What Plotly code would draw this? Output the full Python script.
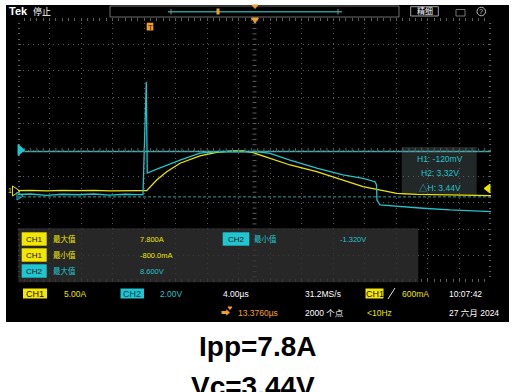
import plotly.graph_objects as go

W, H = 516, 392

# ---------------- data ----------------
# horizontal: time in µs relative to trigger (4 µs/div, 15 div, H-pos 13.376 µs)
T_LEFT, T_RIGHT, T_DIV = -16.624, 43.376, 4.0
CH1_RANGE = [-17.05, 32.95]   # A   (5 A/div, 10 div)
CH2_RANGE = [-6.568, 13.432]  # V   (2 V/div, 10 div)

ch1_time = [-16.62, -15.0, -13.0, -11.0, -9.0, -7.0, -5.0, -3.0, -1.5, -0.30,
            0.97, 2.24, 3.93, 6.46, 8.58, 10.65, 11.92, 13.19, 15.34, 17.88,
            21.27, 24.60, 27.14, 29.68, 31.42, 33.95, 38.18, 43.38]
ch1_amps = [0.25, 0.30, 0.20, 0.30, 0.25, 0.30, 0.20, 0.30, 0.25, 0.25,
            2.27, 3.84, 5.44, 6.82, 7.52, 7.77, 7.80, 7.44, 6.38, 5.11,
            3.84, 2.27, 1.00, 0.25, -0.25, -0.44, -0.57, -0.70]

ch2_time = [-16.62, -15.0, -13.0, -11.0, -9.0, -7.0, -5.0, -3.0, -1.5, -0.77,
            -0.35, -0.23, 1.39, 3.93, 6.46, 8.58, 10.65, 12.81, 14.08, 15.34,
            17.88, 21.27, 24.60, 27.14, 28.66, 28.85, 28.91, 29.30, 31.83,
            34.75, 38.18, 43.38]
ch2_volts = [0.06, 0.10, 0.00, 0.08, 0.04, 0.10, 0.02, 0.08, 0.05, 0.06,
             8.60, 1.69, 2.07, 2.67, 3.20, 3.30, 3.32, 3.32, 3.28, 3.18,
             2.67, 2.05, 1.54, 1.29, 1.03, 0.78, -0.36, -0.73, -0.86,
             -0.98, -1.11, -1.23]

cursor_h1 = -0.12   # V
cursor_h2 = 3.32    # V
trig_level = 0.6    # A

meas_rows = [("CH1", "最大值", "7.800A"), ("CH1", "最小值", "-800.0mA"), ("CH2", "最大值", "8.600V")]
meas_right = ("CH2", "最小值", "-1.320V")
cursor_texts = ["H1: -120mV", "H2: 3.32V", "△H: 3.44V"]
title_lines = ["Ipp=7.8A", "Vc=3.44V"]

# ---------------- style ----------------
YEL = "#ece400"
YEL_BG = "#f3e600"
CYA = "#22c3cc"
CYA_BG = "#1fc6cf"
ORA = "#f0a024"
GRID = "#5c5c5c"
FONT = "Liberation Sans, Noto Sans CJK SC, sans-serif"

GX0, GX1, GY0, GY1 = 18, 491, 18, 282   # grid box in pixels


def PX(x):
    return x / W


def PY(y):
    return 1 - y / H


fig = go.Figure()
fig.add_trace(go.Scatter(x=ch1_time, y=ch1_amps, mode="lines", line=dict(color=YEL, width=1.3),
                         yaxis="y", hoverinfo="skip", showlegend=False))
fig.add_trace(go.Scatter(x=ch2_time, y=ch2_volts, mode="lines", line=dict(color=CYA, width=1.3),
                         yaxis="y2", hoverinfo="skip", showlegend=False))

shapes = []
ann = []

# oscilloscope screen
shapes.append(dict(type="rect", xref="paper", yref="paper", x0=PX(6), x1=PX(509), y0=PY(322), y1=PY(5),
                   fillcolor="black", line_width=0, layer="below"))

# cursors
shapes.append(dict(type="line", xref="x", yref="y2", x0=T_LEFT, x1=T_RIGHT, y0=cursor_h2, y1=cursor_h2,
                   line=dict(color="#3fa9ab", width=1.4), layer="below"))
shapes.append(dict(type="line", xref="x", yref="y2", x0=T_LEFT, x1=T_RIGHT, y0=cursor_h1, y1=cursor_h1,
                   line=dict(color="#2f9ea3", width=1, dash="3px,2px"), layer="below"))

# centre cross minor ticks
tc = (T_LEFT + T_RIGHT) / 2
yc = (CH1_RANGE[0] + CH1_RANGE[1]) / 2
for k in range(76):
    t = T_LEFT + k * T_DIV / 5
    shapes.append(dict(type="line", xref="x", yref="y", xsizemode="scaled", ysizemode="pixel", yanchor=yc,
                       x0=t, x1=t, y0=-2, y1=2, line=dict(color=GRID, width=1)))
for k in range(51):
    a = CH1_RANGE[0] + k * 1.0
    shapes.append(dict(type="line", xref="x", yref="y", xsizemode="pixel", xanchor=tc,
                       x0=-2, x1=2, y0=a, y1=a, line=dict(color=GRID, width=1)))


def txt(x, y, s, color="white", size=9, anchor="left", bold=False, font=FONT):
    ann.append(dict(xref="paper", yref="paper", x=PX(x), y=PY(y), text=("<b>%s</b>" % s) if bold else s,
                    showarrow=False, xanchor=anchor, yanchor="middle",
                    font=dict(color=color, size=size, family=font)))


def badge(x0, x1, y0, y1, s, bg, fg="#111111", size=8):
    shapes.append(dict(type="rect", xref="paper", yref="paper", x0=PX(x0), x1=PX(x1), y0=PY(y1), y1=PY(y0),
                       fillcolor=bg, line_width=0, layer="above"))
    txt((x0 + x1) / 2, (y0 + y1) / 2 + 0.5, s, color=fg, size=size, anchor="center")


def tri(points, color, fill=True):
    path = "M " + " L ".join("%f,%f" % (PX(a), PY(b)) for a, b in points) + " Z"
    shapes.append(dict(type="path", xref="paper", yref="paper", path=path,
                       fillcolor=color if fill else "rgba(0,0,0,0)", line=dict(color=color, width=1),
                       layer="above"))

# ---- top bar ----
txt(7, 11.5, "Tek", size=11, bold=True)
txt(31, 11.5, "停止", size=9)
shapes.append(dict(type="rect", xref="paper", yref="paper", x0=PX(110), x1=PX(399), y0=PY(17), y1=PY(6),
                   line=dict(color="#6d6d6d", width=1), fillcolor="rgba(0,0,0,0)"))
shapes.append(dict(type="line", xref="paper", yref="paper", x0=PX(168), x1=PX(342), y0=PY(11.7), y1=PY(11.7),
                   line=dict(color="#2c9696", width=1.6)))
for bx in (171, 338):
    shapes.append(dict(type="line", xref="paper", yref="paper", x0=PX(bx), x1=PX(bx), y0=PY(9), y1=PY(14.5),
                       line=dict(color="#888", width=1)))
shapes.append(dict(type="rect", xref="paper", yref="paper", x0=PX(216.5), x1=PX(219.5), y0=PY(14.5), y1=PY(8.5),
                   fillcolor=ORA, line_width=0))
tri([(252, 5), (258, 5), (255, 8.5)], ORA)
shapes.append(dict(type="rect", xref="paper", yref="paper", x0=PX(410.7), x1=PX(438.3), y0=PY(16), y1=PY(6.7),
                   line=dict(color="#a0a0a0", width=1), fillcolor="rgba(0,0,0,0)"))
txt(424.5, 11.5, "精细", size=8, anchor="center")
shapes.append(dict(type="rect", xref="paper", yref="paper", x0=PX(456), x1=PX(465), y0=PY(16), y1=PY(9.5),
                   line=dict(color="#777", width=1), fillcolor="rgba(0,0,0,0)"))
shapes.append(dict(type="circle", xref="paper", yref="paper", x0=PX(477), x1=PX(485.5), y0=PY(15.8), y1=PY(7.2),
                   line=dict(color="#bbbbbb", width=1), fillcolor="rgba(0,0,0,0)"))
txt(481.3, 11.7, "?", size=7, color="#cccccc", anchor="center")

# trigger / centre markers
tri([(251.5, 18), (258.5, 18), (255, 23)], ORA)
badge(146.7, 153.3, 22.7, 30.5, "T", ORA, fg="#3a2000", size=8)

# left markers
tri([(18, 144.5), (18, 155.5), (24.5, 150)], CYA_BG)
txt(10, 190.5, "1", color=YEL, size=7, anchor="center")
tri([(12.5, 186), (12.5, 196), (20, 191)], YEL, fill=False)
tri([(17, 192), (17, 200), (23, 196)], CYA_BG, fill=False)
# right trigger level marker
tri([(490, 184), (490, 193), (484, 188.5)], YEL)

# ---- cursor readout ----
shapes.append(dict(type="rect", xref="paper", yref="paper", x0=PX(401.7), x1=PX(476.7), y0=PY(195), y1=PY(147),
                   fillcolor="rgba(40,46,46,0.85)", line_width=0, layer="below"))
for i, s in enumerate(cursor_texts):
    txt(439.5, 158.5 + i * 14.5, s, color=CYA, size=8.5, anchor="center")

# ---- measurement panel ----
shapes.append(dict(type="rect", xref="paper", yref="paper", x0=PX(18.3), x1=PX(418.3), y0=PY(282.3), y1=PY(228.3),
                   fillcolor="rgba(48,48,48,0.82)", line_width=0, layer="above"))
for i, (ch, lab, val) in enumerate(meas_rows):
    yc_ = 239 + i * 16
    col = YEL if ch == "CH1" else CYA
    bg = YEL_BG if ch == "CH1" else CYA_BG
    badge(21.7, 46.7, yc_ - 6.7, yc_ + 6.7, ch, bg, size=8)
    txt(50.7, yc_, lab, color=col, size=7.5)
    txt(138.3, yc_, val, color=col, size=7.5)
ch, lab, val = meas_right
badge(222.7, 249.3, 232.3, 245.7, ch, CYA_BG, size=8)
txt(252.3, 239, lab, color=CYA, size=7.5)
txt(338.3, 239, val, color=CYA, size=7.5)

# ---- status bar ----
badge(23, 47, 288.5, 298.5, "CH1", YEL_BG, size=9)
txt(62, 293.5, "5.00A", color=YEL, size=8.5)
badge(120.5, 144, 288.5, 298.5, "CH2", CYA_BG, fg="#123a55", size=9)
txt(158, 293.5, "2.00V", color=CYA, size=8.5)
txt(220.5, 293.5, "4.00µs", size=8.5)
txt(303, 293.5, "31.2MS/s", size=8.5)
badge(365.5, 383.5, 288.5, 298.5, "CH1", YEL_BG, size=9)
shapes.append(dict(type="line", xref="paper", yref="paper", x0=PX(388), x1=PX(395), y0=PY(299), y1=PY(288),
                   line=dict(color="#dddddd", width=1)))
txt(400, 293.5, "600mA", color=YEL, size=8.5)
txt(447, 294, "10:07:42", size=8.5)
txt(219, 312.5, "➡", color=ORA, size=9)
tri([(228, 307), (232, 307), (230, 309.5)], ORA)
txt(236, 313, "13.3760µs", color=ORA, size=8.5)
txt(303, 313, "2000 个点", size=8.5)
txt(365, 313, "<10Hz", color=YEL, size=8.5)
txt(447, 313, "27 六月 2024", size=8.5)

# ---- caption below the screen ----
txt(257.5, 346, title_lines[0], color="black", size=28, anchor="center", bold=True,
    font="Liberation Sans, Arial, sans-serif")
txt(252.5, 386, title_lines[1], color="black", size=28, anchor="center", bold=True,
    font="Liberation Sans, Arial, sans-serif")

axis_common = dict(showticklabels=False, zeroline=False, showline=False, fixedrange=True,
                   showgrid=True, gridcolor=GRID, griddash="1px,4px", gridwidth=1,
                   ticks="inside", ticklen=3, tickcolor=GRID, mirror="allticks")

fig.update_layout(
    width=W, height=H, margin=dict(l=0, r=0, t=0, b=0),
    paper_bgcolor="white", plot_bgcolor="black",
    xaxis=dict(domain=[PX(GX0), PX(GX1)], range=[T_LEFT, T_RIGHT], tick0=T_LEFT, dtick=T_DIV,
               minor=dict(dtick=T_DIV / 5, tick0=T_LEFT, ticks="inside", ticklen=2, tickcolor=GRID, showgrid=False),
               **axis_common),
    yaxis=dict(domain=[PY(GY1), PY(GY0)], range=CH1_RANGE, tick0=CH1_RANGE[0], dtick=5,
               minor=dict(dtick=1, tick0=CH1_RANGE[0], ticks="inside", ticklen=2, tickcolor=GRID, showgrid=False),
               **axis_common),
    yaxis2=dict(overlaying="y", range=CH2_RANGE, showgrid=False, showticklabels=False, zeroline=False,
                fixedrange=True),
    shapes=shapes, annotations=ann, showlegend=False,
)

fig.write_html("out.html", config={"displayModeBar": False},
               post_script="document.body.style.margin='0';document.body.style.overflow='hidden';")
